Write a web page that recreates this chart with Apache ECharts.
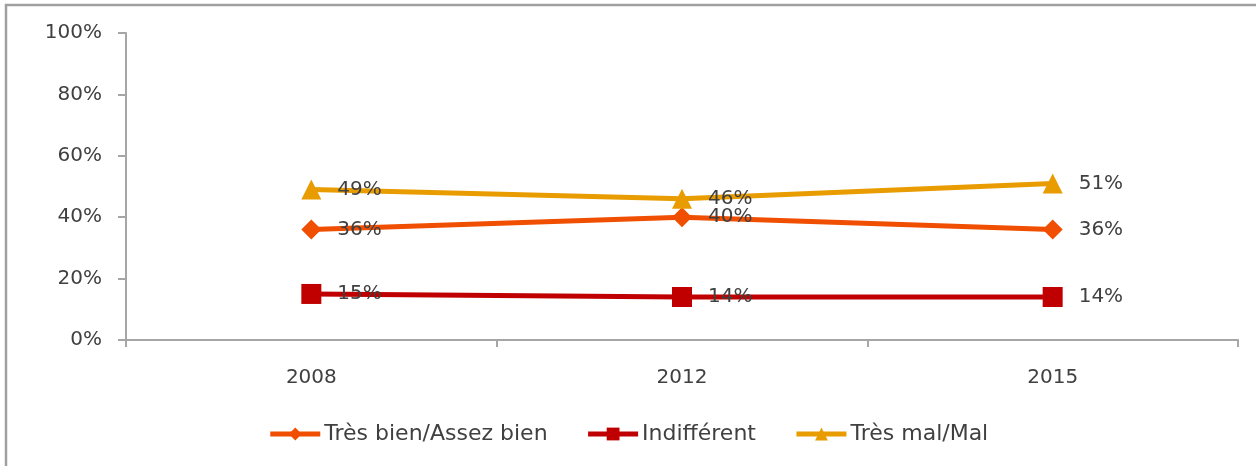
<!DOCTYPE html>
<html>
<head>
<meta charset="utf-8">
<script src="https://cdn.jsdelivr.net/npm/echarts@6/dist/echarts.min.js"></script>
<style>
  html, body { margin: 0; padding: 0; background: #fff; }
  #chart { width: 1256px; height: 466px; }
</style>
</head>
<body>
<div id="chart"></div>
<script>
// années
var years = ['2008', '2012', '2015'];
// valeurs en %
var tresBien = [36, 40, 36];
var indifferent = [15, 14, 14];
var tresMal = [49, 46, 51];
var seriesNames = ['Très bien/Assez bien', 'Indifférent', 'Très mal/Mal'];

var textColor = '#404040';
var axisColor = '#a6a6a6';
var font = 'DejaVu Sans';

function makeSeries(name, data, color, symbol) {
    return {
        name: name,
        type: 'line',
        data: data,
        symbol: symbol,
        symbolSize: 20,
        showAllSymbol: true,
        lineStyle: { color: color, width: 5 },
        itemStyle: { color: color },
        label: {
            show: true,
            position: 'right',
            distance: 16,
            formatter: '{c}%',
            color: textColor,
            fontFamily: font,
            fontSize: 20
        },
        emphasis: { disabled: true },
        animation: false
    };
}

var myChart = echarts.init(document.getElementById('chart'));
var option = {
    animation: false,
    textStyle: { fontFamily: font },
    graphic: [{
        type: 'polyline',
        shape: { points: [[6, 466], [6, 5], [1256, 5]] },
        style: { stroke: '#a0a0a0', lineWidth: 2.5, fill: null },
        silent: true
    }],
    grid: { left: 126, right: 18, top: 33, bottom: 126 },
    legend: {
        data: seriesNames,
        left: 'center',
        top: 418,
        itemWidth: 50,
        itemHeight: 16,
        itemGap: 38,
        lineStyle: { width: 5 },
        textStyle: { color: textColor, fontFamily: font, fontSize: 22, padding: [0, 0, 0, -1] }
    },
    xAxis: {
        type: 'category',
        data: years,
        boundaryGap: true,
        axisLine: { lineStyle: { color: axisColor, width: 2 } },
        axisTick: { show: true, alignWithLabel: false, length: 7, lineStyle: { color: axisColor, width: 2 } },
        axisLabel: { color: textColor, fontFamily: font, fontSize: 20, margin: 28 },
        splitLine: { show: false }
    },
    yAxis: {
        type: 'value',
        min: 0,
        max: 100,
        interval: 20,
        axisLine: { show: true, lineStyle: { color: axisColor, width: 2 } },
        axisTick: { show: true, length: 8, lineStyle: { color: axisColor, width: 2 } },
        axisLabel: { color: textColor, fontFamily: font, fontSize: 20, margin: 24, formatter: '{value}%' },
        splitLine: { show: false }
    },
    series: [
        makeSeries(seriesNames[0], tresBien, '#f04e00', 'diamond'),
        makeSeries(seriesNames[1], indifferent, '#c00000', 'rect'),
        makeSeries(seriesNames[2], tresMal, '#e89c00', 'triangle')
    ]
};
myChart.setOption(option);
</script>
</body>
</html>
